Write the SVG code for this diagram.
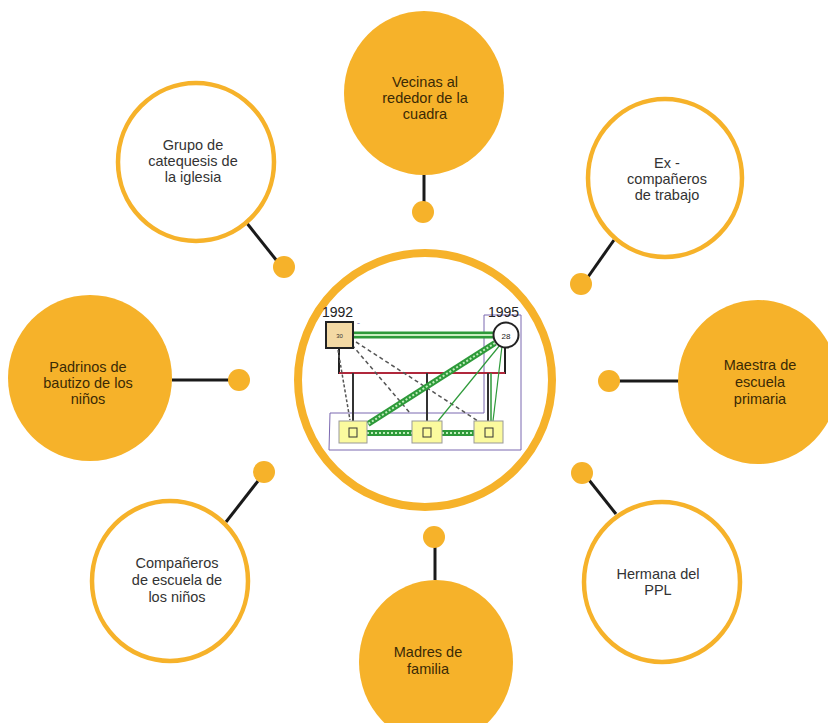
<svg xmlns="http://www.w3.org/2000/svg" width="828" height="723" viewBox="0 0 828 723">
<style>
.fill{fill:#F6B22A;stroke:none}
.ring{fill:#fff;stroke:#F6B22A;stroke-width:4.5}
.lbl{font-family:"Liberation Sans",Arial,sans-serif;font-size:14.5px;text-anchor:middle;fill:#333}
.lbd{font-family:"Liberation Sans",Arial,sans-serif;font-size:14.5px;text-anchor:middle;fill:#3b2a05}
.con{stroke:#1a1a1a;stroke-width:3;fill:none}
.dot{fill:#F6B22A}
.yr{font-family:"Liberation Sans",Arial,sans-serif;font-size:14px;fill:#222}
.kid{fill:#fbfa9e;stroke:#999;stroke-width:1}
</style>
<rect width="828" height="723" fill="#fff"/>
<g id="connectors">
<line class="con" x1="424" y1="174" x2="424" y2="202"/>
<circle class="dot" cx="423" cy="212" r="11"/>
<line class="con" x1="246" y1="222" x2="277" y2="261"/>
<circle class="dot" cx="284" cy="267" r="11"/>
<line class="con" x1="614" y1="240" x2="588" y2="277"/>
<circle class="dot" cx="581" cy="284" r="11"/>
<line class="con" x1="172" y1="380" x2="230" y2="380"/>
<circle class="dot" cx="239" cy="380" r="11"/>
<line class="con" x1="619" y1="381" x2="679" y2="381"/>
<circle class="dot" cx="609" cy="381" r="11"/>
<line class="con" x1="226" y1="522" x2="258" y2="481"/>
<circle class="dot" cx="264" cy="472" r="11"/>
<line class="con" x1="616" y1="514" x2="589" y2="480"/>
<circle class="dot" cx="582" cy="473" r="11"/>
<line class="con" x1="435" y1="547" x2="435" y2="580"/>
<circle class="dot" cx="434" cy="537" r="11"/>
</g>
<g id="vecinas">
<ellipse class="fill" cx="424" cy="93" rx="80" ry="82"/>
<text class="lbd" x="425" y="87">Vecinas al</text>
<text class="lbd" x="425" y="103">rededor de la</text>
<text class="lbd" x="425" y="119">cuadra</text>
</g>
<g id="grupo">
<ellipse class="ring" cx="196" cy="162" rx="78" ry="79"/>
<text class="lbl" x="193" y="150">Grupo de</text>
<text class="lbl" x="193" y="166">catequesis de</text>
<text class="lbl" x="193" y="182">la iglesia</text>
</g>
<g id="excompaneros">
<ellipse class="ring" cx="665" cy="178" rx="77" ry="79"/>
<text class="lbl" x="667" y="168">Ex -</text>
<text class="lbl" x="667" y="184">compañeros</text>
<text class="lbl" x="667" y="200">de trabajo</text>
</g>
<g id="padrinos">
<ellipse class="fill" cx="90" cy="378" rx="82" ry="83"/>
<text class="lbd" x="88" y="372">Padrinos de</text>
<text class="lbd" x="88" y="388">bautizo de los</text>
<text class="lbd" x="88" y="404">niños</text>
</g>
<g id="maestra">
<ellipse class="fill" cx="758" cy="382" rx="80" ry="82"/>
<text class="lbd" x="760" y="370">Maestra de</text>
<text class="lbd" x="760" y="387">escuela</text>
<text class="lbd" x="760" y="404">primaria</text>
</g>
<g id="companeros">
<ellipse class="ring" cx="170" cy="581" rx="78" ry="80"/>
<text class="lbl" x="177" y="568">Compañeros</text>
<text class="lbl" x="177" y="585">de escuela de</text>
<text class="lbl" x="177" y="602">los niños</text>
</g>
<g id="hermana">
<ellipse class="ring" cx="662" cy="582" rx="78" ry="80"/>
<text class="lbl" x="658" y="579">Hermana del</text>
<text class="lbl" x="658" y="595">PPL</text>
</g>
<g id="madres">
<ellipse class="fill" cx="436" cy="662" rx="77" ry="82"/>
<text class="lbd" x="428" y="657">Madres de</text>
<text class="lbd" x="428" y="674">familia</text>
</g>
<g id="centro">
<circle cx="425" cy="380" r="127" fill="#fff" stroke="#F6B22A" stroke-width="8"/>
<polyline points="484,315 521,315 521,450 329,450 330,413 484,413 484,315" fill="none" stroke="#7b68b0" stroke-width="1"/>
<line x1="353" y1="335" x2="493" y2="335" stroke="#2e9a3a" stroke-width="7"/>
<line x1="353" y1="335" x2="493" y2="335" stroke="#c9eec0" stroke-width="2"/>
<polyline points="339,348 339,373 505,373 505,347" fill="none" stroke="#222" stroke-width="2"/>
<line x1="339" y1="373" x2="505" y2="373" stroke="#b0283c" stroke-width="2"/>
<line x1="353" y1="373" x2="353" y2="421" stroke="#333" stroke-width="2"/>
<line x1="427" y1="373" x2="427" y2="421" stroke="#333" stroke-width="2"/>
<line x1="488" y1="373" x2="488" y2="421" stroke="#333" stroke-width="2"/>
<line x1="491" y1="373" x2="491" y2="421" stroke="#2e9a3a" stroke-width="1.5"/>
<line x1="338" y1="350" x2="350" y2="420" stroke="#555" stroke-width="1.5" stroke-dasharray="3 2"/>
<line x1="352" y1="345" x2="410" y2="413" stroke="#555" stroke-width="1.5" stroke-dasharray="4 3"/>
<line x1="356" y1="342" x2="478" y2="421" stroke="#555" stroke-width="1.5" stroke-dasharray="4 3"/>
<line x1="500" y1="345" x2="438" y2="421" stroke="#2e9a3a" stroke-width="1.2"/>
<line x1="502" y1="346" x2="493" y2="421" stroke="#2e9a3a" stroke-width="1.2"/>
<line x1="495" y1="343" x2="368" y2="424" stroke="#2e9a3a" stroke-width="6"/>
<line x1="495" y1="343" x2="368" y2="424" stroke="#bfeebb" stroke-width="2" stroke-dasharray="2 2"/>
<line x1="367" y1="433" x2="412" y2="433" stroke="#2e9a3a" stroke-width="6"/>
<line x1="367" y1="433" x2="412" y2="433" stroke="#bfeebb" stroke-width="2" stroke-dasharray="2 2"/>
<line x1="442" y1="433" x2="474" y2="433" stroke="#2e9a3a" stroke-width="6"/>
<line x1="442" y1="433" x2="474" y2="433" stroke="#bfeebb" stroke-width="2" stroke-dasharray="2 2"/>
<text class="yr" x="322" y="317">1992</text>
<text class="yr" x="488" y="317">1995</text>
<rect x="326" y="322" width="27" height="26" fill="#f3d9a4" stroke="#222" stroke-width="2"/>
<text x="339.5" y="338" font-family="Liberation Sans,Arial,sans-serif" font-size="6" text-anchor="middle" fill="#333">30</text>
<text x="357" y="325" font-family="Liberation Sans,Arial,sans-serif" font-size="5" fill="#55a">~</text>
<circle cx="506" cy="335" r="12.5" fill="#fff" stroke="#222" stroke-width="2"/>
<text x="506" y="338.5" font-family="Liberation Sans,Arial,sans-serif" font-size="8" text-anchor="middle" fill="#222">28</text>
<rect class="kid" x="339" y="421" width="28" height="22"/>
<rect x="349" y="428" width="8" height="9" fill="none" stroke="#333" stroke-width="1"/>
<rect class="kid" x="412" y="421" width="30" height="22"/>
<rect x="423" y="428" width="8" height="9" fill="none" stroke="#333" stroke-width="1"/>
<rect class="kid" x="474" y="421" width="29" height="22"/>
<rect x="485" y="428" width="8" height="9" fill="none" stroke="#333" stroke-width="1"/>
</g>
</svg>
